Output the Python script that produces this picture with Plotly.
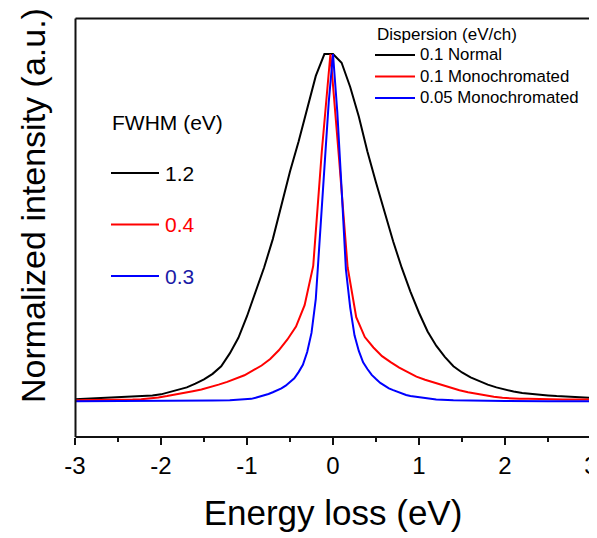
import plotly.graph_objects as go

# ---- data ----
x_black = [-3.0, -2.9, -2.8, -2.7, -2.6, -2.5, -2.4, -2.3, -2.2, -2.1,
           -2.0, -1.9, -1.8, -1.7, -1.6, -1.5, -1.4, -1.3, -1.2, -1.1,
           -1.0, -0.9, -0.8, -0.7, -0.6, -0.5, -0.4, -0.3, -0.2, -0.1,
           0.0, 0.1, 0.2, 0.3, 0.4, 0.5, 0.6, 0.7, 0.8, 0.9,
           1.0, 1.1, 1.2, 1.3, 1.4, 1.5, 1.6, 1.7, 1.8, 1.9,
           2.0, 2.1, 2.2, 2.3, 2.4, 2.5, 2.6, 2.7, 2.8, 2.9, 3.0]
y_black = [0.006, 0.007, 0.008, 0.009, 0.010, 0.011, 0.012, 0.013, 0.015, 0.017,
           0.020, 0.026, 0.032, 0.040, 0.051, 0.063, 0.079, 0.101, 0.138, 0.183,
           0.245, 0.316, 0.386, 0.467, 0.562, 0.662, 0.748, 0.845, 0.937, 1.000,
           1.000, 0.975, 0.905, 0.820, 0.719, 0.630, 0.544, 0.460, 0.384, 0.316,
           0.255, 0.201, 0.160, 0.128, 0.101, 0.083, 0.069, 0.058, 0.048, 0.040,
           0.033, 0.028, 0.024, 0.021, 0.019, 0.017, 0.015, 0.014, 0.012, 0.011, 0.010]

x_red = [-3.03, -2.93, -2.83, -2.73, -2.63, -2.53, -2.43, -2.33, -2.23, -2.13,
         -2.03, -1.93, -1.83, -1.73, -1.63, -1.53, -1.43, -1.33, -1.23, -1.13,
         -1.03, -0.93, -0.83, -0.73, -0.63, -0.53, -0.43, -0.33, -0.23, -0.13,
         -0.03, 0.07, 0.17, 0.27, 0.37, 0.47, 0.57, 0.67, 0.77, 0.87,
         0.97, 1.07, 1.17, 1.27, 1.37, 1.47, 1.57, 1.67, 1.77, 1.87,
         1.97, 2.07, 2.17, 2.27, 2.37, 2.47, 2.57, 2.67, 2.77, 2.87, 2.97, 3.07]
y_red = [0.003, 0.003, 0.003, 0.004, 0.004, 0.004, 0.005, 0.005, 0.006, 0.008,
         0.011, 0.015, 0.019, 0.023, 0.029, 0.034, 0.040, 0.048, 0.056, 0.065,
         0.075, 0.089, 0.103, 0.122, 0.147, 0.178, 0.215, 0.277, 0.390, 0.720,
         1.000, 0.700, 0.386, 0.242, 0.185, 0.155, 0.130, 0.113, 0.097, 0.084,
         0.071, 0.062, 0.054, 0.046, 0.039, 0.032, 0.026, 0.021, 0.017, 0.013,
         0.010, 0.008, 0.007, 0.007, 0.006, 0.006, 0.006, 0.005, 0.005, 0.005, 0.005, 0.005]

x_blue = [-3.0, -2.5, -2.0, -1.6, -1.4, -1.2, -1.1, -1.0, -0.95, -0.9,
          -0.85, -0.8, -0.75, -0.7, -0.65, -0.6, -0.55, -0.5, -0.45, -0.4,
          -0.35, -0.3, -0.25, -0.2, -0.15, -0.1, -0.05, 0.0, 0.05, 0.1,
          0.15, 0.2, 0.25, 0.3, 0.35, 0.4, 0.45, 0.5, 0.55, 0.6,
          0.65, 0.7, 0.75, 0.8, 0.85, 0.9, 1.0, 1.1, 1.2, 1.4,
          1.6, 2.0, 2.5, 3.0]
y_blue = [0.000, 0.000, 0.000, 0.001, 0.002, 0.003, 0.004, 0.006, 0.007, 0.010,
          0.013, 0.017, 0.021, 0.026, 0.031, 0.037, 0.045, 0.056, 0.066, 0.084,
          0.105, 0.142, 0.197, 0.295, 0.480, 0.695, 0.860, 1.000, 0.833, 0.612,
          0.380, 0.270, 0.190, 0.145, 0.112, 0.093, 0.076, 0.064, 0.053, 0.045,
          0.037, 0.032, 0.027, 0.022, 0.018, 0.015, 0.011, 0.008, 0.005, 0.003,
          0.002, 0.001, 0.000, 0.000]

series_names = ["0.1 Normal", "0.1 Monochromated", "0.05 Monochromated"]
fwhm_labels = ["1.2", "0.4", "0.3"]
legend_title = "Dispersion (eV/ch)"
fwhm_title = "FWHM (eV)"
x_title = "Energy loss (eV)"
y_title = "Normalized intensity (a.u.)"
x_ticks = [-3, -2, -1, 0, 1, 2, 3]

colors = ["#000000", "#ff0000", "#0000ff"]
label_colors = ["#000000", "#ff0000", "#1a1aa6"]

FONT = "Arial, 'Liberation Sans', sans-serif"

# page body adds an 8 px offset; figure is sized so the plot box lands where the reference has it
OFF = 8
W, H = 597 - OFF, 538 - OFF
ml, mr, mt, mb = 75 - OFF, 6, 18 - OFF, 101
pw, ph = W - ml - mr, H - mt - mb


def px(xp):  # reference page pixel -> paper x
    return (xp - OFF - ml) / pw


def py(yp):  # reference page pixel -> paper y
    return (H - mb - (yp - OFF)) / ph


fig = go.Figure()
for xs, ys, name, c in zip([x_black, x_red, x_blue], [y_black, y_red, y_blue],
                           series_names, colors):
    fig.add_trace(go.Scatter(x=xs, y=ys, mode="lines", name=name,
                             line=dict(color=c, width=2), showlegend=False))

# frame around the plot area
fl, fr, ft, fb = px(75.5), px(590.5), py(18.5), py(437)
for (x0, y0, x1, y1) in [(fl, fb, fr, fb), (fl, ft, fr, ft), (fl, fb, fl, ft), (fr, fb, fr, ft)]:
    fig.add_shape(type="line", xref="paper", yref="paper", x0=x0, y0=y0, x1=x1, y1=y1,
                  line=dict(color="#111111", width=2), layer="above")

# legend block (top right), drawn as key lines + labels
fig.add_annotation(x=px(375), y=py(34), xref="paper", yref="paper", text=legend_title,
                   showarrow=False, xanchor="left", yanchor="middle",
                   font=dict(size=17, color="#000000", family=FONT))
for ry, name, c in zip([55, 76.5, 98], series_names, colors):
    fig.add_shape(type="line", xref="paper", yref="paper",
                  x0=px(375), x1=px(415), y0=py(ry), y1=py(ry),
                  line=dict(color=c, width=2))
    fig.add_annotation(x=px(418), y=py(ry), xref="paper", yref="paper", text=name,
                       showarrow=False, xanchor="left", yanchor="middle",
                       font=dict(size=16.8, color="#000000", family=FONT))

# FWHM key
fig.add_annotation(x=px(110), y=py(122), xref="paper", yref="paper", text=fwhm_title,
                   showarrow=False, xanchor="left", yanchor="middle",
                   font=dict(size=21, color="#000000", family=FONT))
for ry, lab, c, lc in zip([173, 224.5, 276], fwhm_labels, colors, label_colors):
    fig.add_shape(type="line", xref="paper", yref="paper",
                  x0=px(111), x1=px(159), y0=py(ry), y1=py(ry),
                  line=dict(color=c, width=2))
    fig.add_annotation(x=px(163), y=py(ry), xref="paper", yref="paper", text=lab,
                       showarrow=False, xanchor="left", yanchor="middle",
                       font=dict(size=21, color=lc, family=FONT))

# y-axis title (placed as in the reference, slightly above the plot centre)
fig.add_annotation(x=px(33), y=py(206), xref="paper", yref="paper", text=y_title,
                   textangle=-90, showarrow=False, xanchor="center", yanchor="middle",
                   font=dict(size=34, color="#000000", family=FONT))

axis_common = dict(showline=False, showgrid=False, zeroline=False, automargin=False)

fig.update_layout(
    width=W, height=H,
    margin=dict(l=ml, r=mr, t=mt, b=mb, autoexpand=False),
    paper_bgcolor="#ffffff", plot_bgcolor="#ffffff",
    font=dict(family=FONT, color="#000000"),
    xaxis=dict(range=[-3, 3], tickvals=x_ticks, ticktext=[str(v) for v in x_ticks],
               ticks="outside", ticklen=7, tickwidth=1.5, tickcolor="#111111",
               minor=dict(dtick=0.5, ticks="outside", ticklen=4, tickwidth=1.5, tickcolor="#111111"),
               tickfont=dict(size=24, family=FONT), ticklabeloverflow="allow",
               title=dict(text=x_title, font=dict(size=35, family=FONT), standoff=22),
               **axis_common),
    yaxis=dict(range=[-0.1028, 1.1037], showticklabels=False, ticks="",
               **axis_common),
    showlegend=False,
)

fig.write_html("out.html")
